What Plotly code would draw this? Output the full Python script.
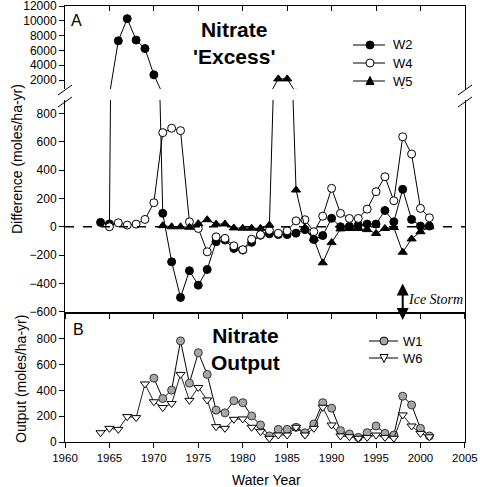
import plotly.graph_objects as go

# ---------------- data ----------------
years_w2 = list(range(1964, 2002))
w2 = [31, 20, 7300, 10300, 7400, 6250, 2700, 95, -248, -500, -311, -413, -302, -106, -94, -153, -165,
      -110, -60, -50, -55, -55, -45, -20, -90, -62, 60, 0, 3, 12, 19, 19, 115, 35, 265, 52, 5, 5]
years_w4 = list(range(1965, 2002))
w4 = [0, 28, 12, 19, 52, 170, 666, 697, 680, 35, -12, -177, -71, -82, -135, -162, -88, -56, -25, -46,
      -28, 42, 50, -35, 75, 272, 95, 59, 59, 125, 248, 354, 184, 637, 515, 130, 64]
years_w5 = list(range(1971, 2002))
w5 = [8, 0, 0, -3, 22, 50, 19, 20, -8, -10, -10, -11, 12, 2150, 2150, 260, -8, -85, -255, -112,
      -15, -12, -12, -20, -47, -12, -5, -180, -86, -35, 0]
years_w1 = list(range(1970, 2002))
w1 = [495, 337, 402, 784, 456, 692, 524, 247, 226, 320, 305, 202, 132, 47, 98, 98, 114, 72, 140, 305,
      262, 88, 62, 36, 72, 124, 67, 54, 355, 287, 106, 47]
years_w6 = list(range(1964, 2002))
w6 = [72, 106, 98, 197, 189, 450, 312, 267, 298, 524, 323, 423, 326, 119, 106, 176, 179, 114, 80, 29,
      54, 54, 114, 54, 106, 269, 132, 47, 41, 29, 36, 54, 36, 29, 210, 124, 67, 40]

x_ticks = [1960, 1965, 1970, 1975, 1980, 1985, 1990, 1995, 2000, 2005]
a_top_ticks = [2000, 4000, 6000, 8000, 10000, 12000]
a_bot_ticks = [-600, -400, -200, 0, 200, 400, 600, 800]
b_ticks = [0, 200, 400, 600, 800]

# ---------------- geometry helpers ----------------
W, H = 480, 487
ML, MR, MT, MB = 65, 15, 6, 45
PW, PH = W - ML - MR, H - MT - MB


def px(xp):
    return (xp - ML) / PW


def py(yp):
    return (H - MB - yp) / PH


FONT = "Arial, Liberation Sans, sans-serif"
SERIF = "Liberation Serif, Times New Roman, serif"
dom_b = [0, py(313)]
dom_a_bot = [py(313), py(100)]
dom_a_top = [py(89), 1]

fig = go.Figure()

line_style = dict(color="black", width=1)
W1_FILL = "#a6a6a6"
mk_w2 = dict(symbol="circle", size=8, color="black", line=dict(color="black", width=1))
mk_w4 = dict(symbol="circle", size=8, color="white", line=dict(color="black", width=1))
mk_w5 = dict(symbol="triangle-up", size=8, color="black", line=dict(color="black", width=1))
mk_w1 = dict(symbol="circle", size=8, color=W1_FILL, line=dict(color="#333333", width=1))
mk_w6 = dict(symbol="triangle-down", size=8, color="white", line=dict(color="black", width=1))

# Panel A bottom segment
fig.add_trace(go.Scatter(x=years_w2, y=w2, mode="lines+markers", name="W2", line=line_style, marker=mk_w2,
                         xaxis="x2", yaxis="y2"))
fig.add_trace(go.Scatter(x=years_w4, y=w4, mode="lines+markers", name="W4", line=line_style, marker=mk_w4,
                         xaxis="x2", yaxis="y2"))
fig.add_trace(go.Scatter(x=years_w5, y=w5, mode="lines+markers", name="W5", line=line_style, marker=mk_w5,
                         xaxis="x2", yaxis="y2"))
# Panel A top segment
fig.add_trace(go.Scatter(x=years_w2, y=w2, mode="lines+markers", name="W2", line=line_style, marker=mk_w2,
                         xaxis="x3", yaxis="y3"))
fig.add_trace(go.Scatter(x=years_w5, y=w5, mode="lines+markers", name="W5", line=line_style, marker=mk_w5,
                         xaxis="x3", yaxis="y3"))
# Panel B
fig.add_trace(go.Scatter(x=years_w1, y=w1, mode="lines+markers", name="W1", line=line_style, marker=mk_w1,
                         xaxis="x", yaxis="y"))
fig.add_trace(go.Scatter(x=years_w6, y=w6, mode="lines+markers", name="W6", line=dict(color="#222222", width=1),
                         marker=mk_w6, xaxis="x", yaxis="y"))

ytickfont = dict(family=FONT, size=12, color="black")
xtickfont = dict(family=FONT, size=11.5, color="black")
common_y = dict(ticks="outside", ticklen=5, tickwidth=1, tickcolor="black", showline=True, linecolor="black",
                linewidth=1, mirror=True, showgrid=False, zeroline=False, tickfont=ytickfont,
                automargin=False, tickformat="d", ticklabeloverflow="allow")
common_x = dict(range=[1960, 2005.01], tickvals=x_ticks, ticklen=5, tickcolor="black", showline=True,
                linecolor="black", showgrid=False, zeroline=False, automargin=False, tickformat="d")

fig.update_layout(
    width=W, height=H,
    showlegend=False,
    margin=dict(l=ML, r=MR, t=MT, b=MB, autoexpand=False),
    paper_bgcolor="white", plot_bgcolor="white",
    font=dict(family=FONT, color="black"),
    xaxis=dict(domain=[0, 1], anchor="y", ticks="outside", mirror=True, tickfont=xtickfont,
               ticklabeloverflow="allow", **common_x),
    yaxis=dict(domain=dom_b, anchor="x", range=[0, 1000], tickvals=b_ticks, **common_y),
    xaxis2=dict(domain=[0, 1], anchor="y2", ticks="outside", showticklabels=False, **common_x),
    yaxis2=dict(domain=dom_a_bot, anchor="x2", range=[-610, 897], tickvals=a_bot_ticks, **common_y),
    xaxis3=dict(domain=[0, 1], anchor="y3", side="top", ticks="inside", showticklabels=False, **common_x),
    yaxis3=dict(domain=dom_a_top, anchor="x3", range=[784, 12010], tickvals=a_top_ticks, **common_y),
)

shapes = []
# dashed zero line in panel A
shapes.append(dict(type="line", xref="x2 domain", yref="y2", x0=0, x1=1, y0=0, y1=0,
                   line=dict(color="black", width=1.5, dash="dash")))
# axis-break slashes
for xc in (65, 465):
    for yc in (90, 102):
        shapes.append(dict(type="line", xref="paper", yref="paper", x0=px(xc - 7), y0=py(yc + 5),
                           x1=px(xc + 7), y1=py(yc - 5), line=dict(color="black", width=1)))

ann = []


def text_at(txt, xp, yp, size, xanchor="center", family=FONT, **kw):
    ann.append(dict(text=txt, xref="paper", yref="paper", x=px(xp), y=py(yp), xanchor=xanchor,
                    yanchor="middle", showarrow=False, font=dict(family=family, size=size, color="black"), **kw))


def legend_entry(label, x0, x1, xm, xt, yc, kind, fill):
    shapes.append(dict(type="line", xref="paper", yref="paper", x0=px(x0), x1=px(x1), y0=py(yc), y1=py(yc),
                       line=dict(color="black", width=1)))
    r = 4
    if kind == "circle":
        shapes.append(dict(type="circle", xref="paper", yref="paper", x0=px(xm - r), x1=px(xm + r),
                           y0=py(yc + r), y1=py(yc - r), fillcolor=fill, line=dict(color="black", width=1)))
    elif kind == "up":
        path = (f"M {px(xm - r)},{py(yc + 3.5)} L {px(xm + r)},{py(yc + 3.5)} "
                f"L {px(xm)},{py(yc - 4.5)} Z")
        shapes.append(dict(type="path", xref="paper", yref="paper", path=path, fillcolor=fill,
                           line=dict(color="black", width=1)))
    else:
        path = (f"M {px(xm - r)},{py(yc - 3.5)} L {px(xm + r)},{py(yc - 3.5)} "
                f"L {px(xm)},{py(yc + 4.5)} Z")
        shapes.append(dict(type="path", xref="paper", yref="paper", path=path, fillcolor=fill,
                           line=dict(color="black", width=1)))
    text_at(label, xt, yc, 13, xanchor="left")


legend_entry("W2", 353, 385, 370, 391, 45, "circle", "black")
legend_entry("W4", 353, 385, 370, 391, 63, "circle", "white")
legend_entry("W5", 353, 385, 370, 391, 81, "up", "black")
legend_entry("W1", 369, 398, 384, 401, 341, "circle", W1_FILL)
legend_entry("W6", 369, 398, 384, 401, 358, "down", "white")

text_at("A", 76, 20, 16)
text_at("B", 78, 329, 16)
text_at("<b>Nitrate<br>'Excess'</b>", 234, 43, 21, align="center")
text_at("<b>Nitrate<br>Output</b>", 245, 349, 21, align="center")
text_at("Difference (moles/ha-yr)", 17, 159, 14, textangle=-90)
text_at("Output (moles/ha-yr)", 21, 379, 14, textangle=-90)
text_at("Water Year", 266, 480, 14)
text_at("<i>Ice Storm</i>", 406, 299, 14, xanchor="left", family=SERIF)
# Ice storm arrow
ann.append(dict(text="", x=1998, xref="x2", y=py(320), yref="paper", ax=0, ay=-38, axref="pixel",
                ayref="pixel", showarrow=True, arrowside="end+start", arrowhead=2, arrowsize=1.2,
                arrowwidth=2, arrowcolor="black"))

fig.update_layout(shapes=shapes, annotations=ann)

fig.write_html("out.html", config={"displayModeBar": False},
               post_script="document.body.style.margin='0';")
